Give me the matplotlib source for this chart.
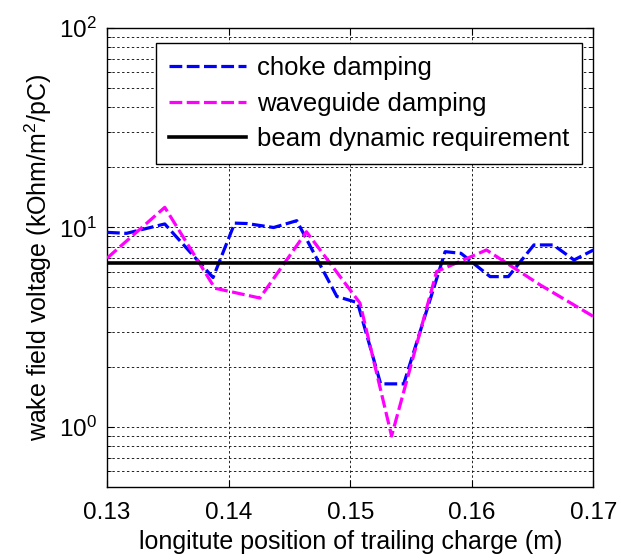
import matplotlib
matplotlib.use("Agg")
import matplotlib.pyplot as plt
from matplotlib.ticker import LogLocator, NullFormatter, FixedLocator

plt.rcParams['font.family'] = ['Liberation Sans', 'DejaVu Sans']
plt.rcParams['mathtext.fontset'] = 'custom'
plt.rcParams['mathtext.rm'] = 'Liberation Sans'
plt.rcParams['mathtext.it'] = 'Liberation Sans'

# choke-damped structure: wake voltage vs. trailing charge position
choke_x = [0.1300, 0.1316, 0.13475, 0.13872, 0.1405, 0.1415, 0.1437, 0.1456,
           0.1489, 0.1506, 0.1525, 0.1544, 0.1578, 0.1591, 0.1615, 0.1630,
           0.1651, 0.1667, 0.1684, 0.1700]
choke_v = [9.44, 9.33, 10.4, 5.6, 10.5, 10.45, 9.98, 10.8,
           4.5, 4.19, 1.64, 1.64, 7.55, 7.41, 5.66, 5.66,
           8.16, 8.16, 6.86, 7.7]

# waveguide-damped structure
wg_x = [0.1300, 0.13475, 0.13887, 0.14257, 0.1464, 0.1508, 0.1534,
        0.1571, 0.1612, 0.1656, 0.1700]
wg_v = [7.0, 12.6, 4.95, 4.42, 9.5, 4.17, 0.898,
        6.0, 7.7, 5.15, 3.57]

# beam dynamics limit
requirement = 6.63

x_ticks = [0.13, 0.14, 0.15, 0.16, 0.17]
x_tick_labels = ['0.13', '0.14', '0.15', '0.16', '0.17']

fig = plt.figure(figsize=(6.21, 5.60), dpi=100)
ax = fig.add_axes([0.1723, 0.1309, 0.7834, 0.8191])

dash = (0, (4.0, 1.4))
ax.plot(choke_x, choke_v, color='#0000FF', lw=2.3, linestyle=dash,
        dash_capstyle='butt', label='choke damping', zorder=3)
ax.plot(wg_x, wg_v, color='#FF00FF', lw=2.3, linestyle=dash,
        dash_capstyle='butt', label='waveguide damping', zorder=3)
ax.axhline(requirement, color='black', lw=2.6,
           label='beam dynamic requirement', zorder=4)

ax.set_yscale('log')
ax.set_xlim(0.13, 0.17)
ax.set_ylim(0.5, 100)
ax.xaxis.set_major_locator(FixedLocator(x_ticks))
ax.set_xticklabels(x_tick_labels)
ax.yaxis.set_major_locator(FixedLocator([1, 10, 100]))
ax.yaxis.set_minor_locator(LogLocator(base=10, subs=range(2, 10), numticks=20))
ax.yaxis.set_minor_formatter(NullFormatter())

grid_style = dict(color='#222222', linestyle=(0, (2.5, 2.5)), linewidth=0.7)
ax.grid(True, which='major', axis='x', **grid_style)
ax.grid(True, which='both', axis='y', **grid_style)
ax.set_axisbelow(True)

ax.tick_params(which='both', direction='in', labelsize=17.5, top=True, right=True)
ax.tick_params(which='major', length=5, width=0.8)
ax.tick_params(which='minor', length=3, width=0.6)
ax.tick_params(axis='x', pad=11)
ax.tick_params(axis='y', pad=7)
for s in ax.spines.values():
    s.set_linewidth(1.0)

ax.set_xlabel('longitute position of trailing charge (m)', fontsize=18, labelpad=4)
ax.set_ylabel('wake field voltage (kOhm/m$^{2}$/pC)', fontsize=18, labelpad=4)

leg = ax.legend(loc='upper right', bbox_to_anchor=(0.9757, 0.9667),
                fontsize=18.5, handlelength=3.0, handletextpad=0.4,
                labelspacing=0.45, borderpad=0.5, borderaxespad=0.0,
                fancybox=False, framealpha=1.0, edgecolor='black')
leg.get_frame().set_linewidth(1.0)

fig.savefig('out.png', dpi=100)
